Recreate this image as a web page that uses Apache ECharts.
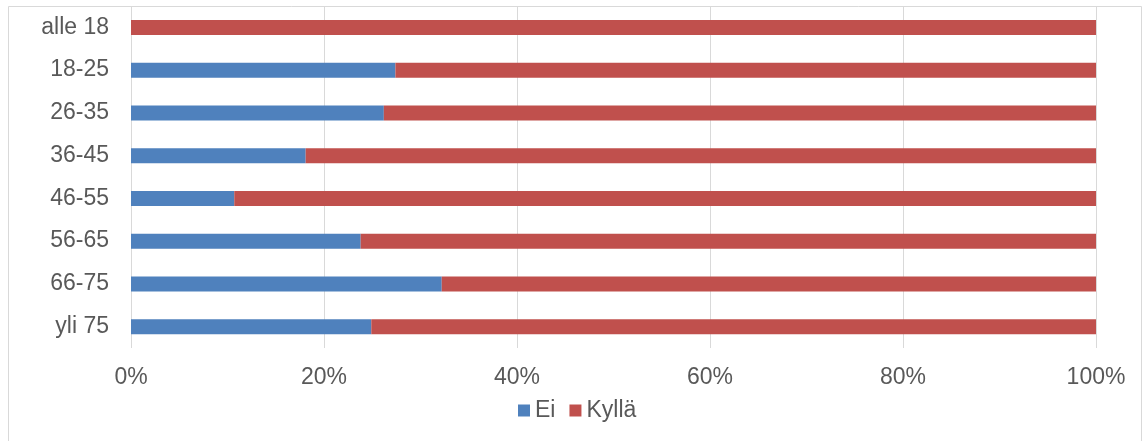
<!DOCTYPE html>
<html>
<head>
<meta charset="utf-8">
<script src="https://cdn.jsdelivr.net/npm/echarts@6/dist/echarts.min.js"></script>
<style>
html,body{margin:0;padding:0;background:#fff;}
#c{width:1144px;height:441px;}
</style>
</head>
<body>
<div id="c"></div>
<script>
const categories = ['alle 18','18-25','26-35','36-45','46-55','56-65','66-75','yli 75'];
const eiValues = [0, 27.4, 26.2, 18.1, 10.7, 23.8, 32.2, 24.9];
const kyllaValues = [100, 72.6, 73.8, 81.9, 89.3, 76.2, 67.8, 75.1];
const xTicks = [0, 20, 40, 60, 80, 100];

const font = 'Liberation Sans, Arial, sans-serif';
const textColor = '#595959';
const chart = echarts.init(document.getElementById('c'), null, {renderer:'canvas'});
chart.setOption({
  animation:false,
  backgroundColor:'#fff',
  graphic:[{
    type:'rect', silent:true, z:-10,
    shape:{x:8.5,y:6.5,width:1133,height:440},
    style:{fill:'none',stroke:'#d9d9d9',lineWidth:1}
  }],
  grid:{left:131,right:48,top:6,bottom:93,containLabel:false},
  legend:{
    data:['Ei','Kyllä'],
    left:513, top:394,
    itemWidth:12,itemHeight:12,itemGap:14,
    icon:'rect',
    textStyle:{color:textColor,fontSize:23,fontFamily:font}
  },
  xAxis:{
    type:'value', min:xTicks[0], max:xTicks[xTicks.length-1], interval:20,
    axisLine:{show:false}, axisTick:{show:false},
    splitLine:{show:true,lineStyle:{color:'#d9d9d9',width:1}},
    axisLabel:{formatter:'{value}%',color:textColor,fontSize:23,fontFamily:font,margin:18}
  },
  yAxis:{
    type:'category', data:categories, inverse:true,
    axisLine:{show:false}, axisTick:{show:false},
    axisLabel:{color:textColor,fontSize:23,fontFamily:font,margin:22}
  },
  series:[
    {name:'Ei',type:'bar',stack:'t',data:eiValues,barWidth:15,itemStyle:{color:'#4f81bd'}},
    {name:'Kyllä',type:'bar',stack:'t',data:kyllaValues,barWidth:15,itemStyle:{color:'#c0504d'}}
  ]
});
</script>
</body>
</html>
